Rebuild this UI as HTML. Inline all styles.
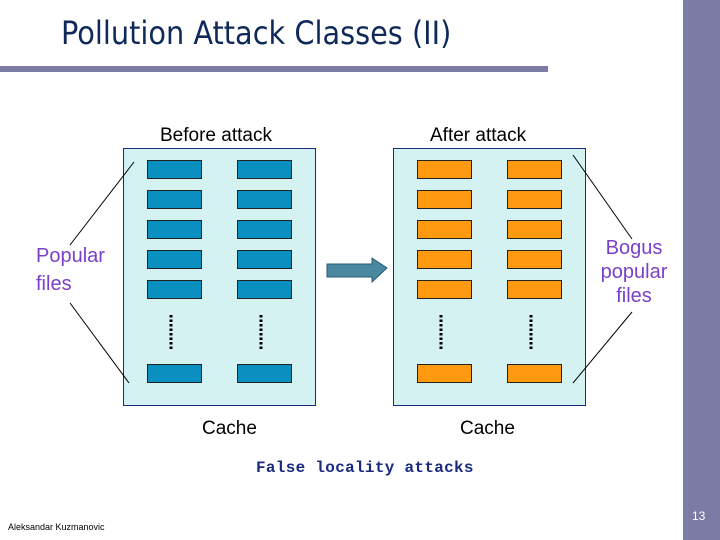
<!DOCTYPE html>
<html><head><style>
body{margin:0;width:720px;height:540px;position:relative;background:#fff;font-family:"Liberation Sans",sans-serif;overflow:hidden}
.a{position:absolute}
</style></head><body>
<div class="a" style="left:683px;top:0;width:37px;height:540px;background:#7b7ba5"></div>
<div class="a" style="left:0;top:66px;width:548px;height:6px;background:#7b7ba5"></div>
<div class="a" style="left:61px;top:14px;font-size:32px;color:#0f2a5a;font-family:'DejaVu Sans Condensed','Liberation Sans Narrow',sans-serif;white-space:nowrap">Pollution Attack Classes (II)</div>
<div class="a" style="left:160px;top:125px;font-size:19px">Before attack</div>
<div class="a" style="left:430px;top:125px;font-size:19px">After attack</div>
<div class="a" style="left:202px;top:418px;font-size:19px">Cache</div>
<div class="a" style="left:460px;top:418px;font-size:19px">Cache</div>
<div class="a" style="left:36px;top:242px;font-size:20px;color:#7a40c8;line-height:28px">Popular<br>files</div>
<div class="a" style="left:598px;top:236px;font-size:20px;color:#7a40c8;line-height:24px;text-align:center;width:72px">Bogus<br>popular<br>files</div>
<div class="a" style="left:256px;top:459px;font-size:16px;font-weight:bold;color:#1a2a80;font-family:'Liberation Mono',monospace;letter-spacing:0.3px">False locality attacks</div>
<div class="a" style="left:8px;top:522px;font-size:9px;color:#000">Aleksandar Kuzmanovic</div>
<div class="a" style="left:692px;top:509px;font-size:12px;color:#fff">13</div>
<svg class="a" style="left:0;top:0" width="720" height="540">
<rect x="123.5" y="148.5" width="192" height="257" fill="#d4f2f2" stroke="#1a2a80"/>
<rect x="393.5" y="148.5" width="192" height="257" fill="#d4f2f2" stroke="#1a2a80"/>
<g stroke="#222" stroke-width="1">
<rect x="147.5" y="160.5" width="54" height="18" fill="#0a90c0"/><rect x="237.5" y="160.5" width="54" height="18" fill="#0a90c0"/>
<rect x="147.5" y="190.5" width="54" height="18" fill="#0a90c0"/><rect x="237.5" y="190.5" width="54" height="18" fill="#0a90c0"/>
<rect x="147.5" y="220.5" width="54" height="18" fill="#0a90c0"/><rect x="237.5" y="220.5" width="54" height="18" fill="#0a90c0"/>
<rect x="147.5" y="250.5" width="54" height="18" fill="#0a90c0"/><rect x="237.5" y="250.5" width="54" height="18" fill="#0a90c0"/>
<rect x="147.5" y="280.5" width="54" height="18" fill="#0a90c0"/><rect x="237.5" y="280.5" width="54" height="18" fill="#0a90c0"/>
<rect x="147.5" y="364.5" width="54" height="18" fill="#0a90c0"/><rect x="237.5" y="364.5" width="54" height="18" fill="#0a90c0"/>
<rect x="417.5" y="160.5" width="54" height="18" fill="#ff9a10"/><rect x="507.5" y="160.5" width="54" height="18" fill="#ff9a10"/>
<rect x="417.5" y="190.5" width="54" height="18" fill="#ff9a10"/><rect x="507.5" y="190.5" width="54" height="18" fill="#ff9a10"/>
<rect x="417.5" y="220.5" width="54" height="18" fill="#ff9a10"/><rect x="507.5" y="220.5" width="54" height="18" fill="#ff9a10"/>
<rect x="417.5" y="250.5" width="54" height="18" fill="#ff9a10"/><rect x="507.5" y="250.5" width="54" height="18" fill="#ff9a10"/>
<rect x="417.5" y="280.5" width="54" height="18" fill="#ff9a10"/><rect x="507.5" y="280.5" width="54" height="18" fill="#ff9a10"/>
<rect x="417.5" y="364.5" width="54" height="18" fill="#ff9a10"/><rect x="507.5" y="364.5" width="54" height="18" fill="#ff9a10"/>
</g>
<g stroke="#000" stroke-width="3" stroke-dasharray="2.5,2">
<line x1="171" y1="315" x2="171" y2="351"/><line x1="261" y1="315" x2="261" y2="351"/>
<line x1="441" y1="315" x2="441" y2="351"/><line x1="531" y1="315" x2="531" y2="351"/>
</g>
<g stroke="#000" stroke-width="1">
<line x1="134" y1="162" x2="70" y2="245"/><line x1="70" y1="303" x2="129" y2="383"/>
<line x1="573" y1="155" x2="632" y2="239"/><line x1="632" y1="312" x2="573" y2="383"/>
</g>
<polygon points="327,264 372,264 372,258 387,268 372,282 372,277 327,277" fill="#4a88a0" stroke="#2a5870"/>
</svg>
</body></html>
